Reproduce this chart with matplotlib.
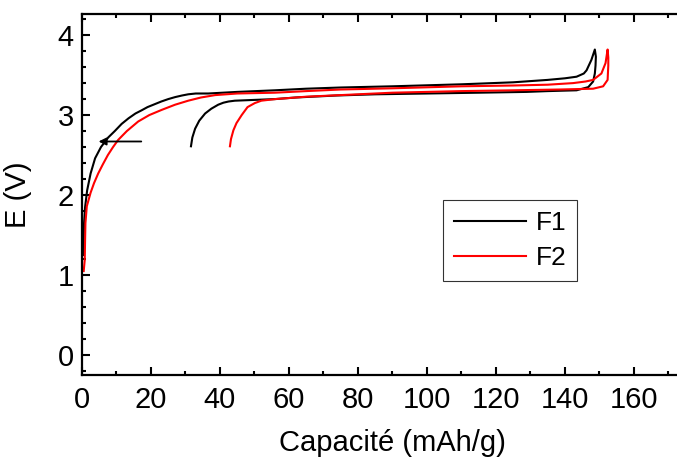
import numpy as np
import matplotlib
matplotlib.use('Agg')
import matplotlib.pyplot as plt
from matplotlib.ticker import MultipleLocator

plt.rcParams['font.family'] = ['Liberation Sans', 'DejaVu Sans']

# F1 : montée (charge) puis retour (décharge)
f1_cap = [0.3, 0.5, 0.6, 0.9, 1.5, 2.5, 3.8, 5.5, 7.6, 9.5, 11.5, 13.5, 15.5, 17.3, 19, 21,
          23, 25, 27, 29, 30.8, 33, 36.6, 45, 55.9, 65, 75, 90, 110, 125, 135, 140, 143.4,
          145.5, 146.3, 147.7, 148.7, 149, 148.9, 148.7, 148.2, 146.8, 143.4, 135, 128.9,
          115, 100, 85, 73.8, 62, 55.9, 50, 44.3, 42.5, 41, 39.5, 37.5, 35.7, 34, 32.8, 32,
          31.6]
f1_volt = [1.25, 1.44, 1.65, 1.85, 2.06, 2.27, 2.46, 2.6, 2.72, 2.80, 2.89, 2.96, 3.02, 3.06,
           3.10, 3.135, 3.17, 3.20, 3.225, 3.245, 3.26, 3.27, 3.27, 3.29, 3.31, 3.33, 3.345,
           3.36, 3.385, 3.41, 3.44, 3.46, 3.48, 3.52, 3.56, 3.69, 3.82, 3.73, 3.62, 3.52,
           3.42, 3.35, 3.31, 3.30, 3.29, 3.28, 3.27, 3.26, 3.245, 3.22, 3.20, 3.19, 3.18,
           3.17, 3.155, 3.13, 3.08, 3.02, 2.93, 2.83, 2.72, 2.61]

# F2
f2_cap = [0.5, 0.8, 0.9, 1.0, 1.4, 2.5, 3.5, 4.7, 6, 7.5, 9, 10.5, 13, 16.3, 19.5, 23.1, 27,
          30.8, 34.5, 38.6, 45, 55.9, 65, 75, 90, 110, 125, 135, 142.4, 146, 148.2, 150.6,
          151.8, 152.4, 152.6, 152.6, 152.4, 151.1, 148.2, 138.6, 125, 110, 90, 75, 65, 56,
          52, 50.1, 48, 46.3, 44.8, 43.9, 43.2, 42.9]
f2_volt = [1.05, 1.19, 1.44, 1.65, 1.86, 2.03, 2.15, 2.27, 2.38, 2.50, 2.60, 2.69, 2.80, 2.92,
           3.00, 3.065, 3.13, 3.18, 3.22, 3.25, 3.27, 3.28, 3.30, 3.32, 3.335, 3.36, 3.37,
           3.38, 3.40, 3.42, 3.44, 3.52, 3.65, 3.82, 3.72, 3.62, 3.44, 3.36, 3.33, 3.32,
           3.31, 3.30, 3.28, 3.25, 3.23, 3.20, 3.18, 3.15, 3.10, 3.00, 2.90, 2.81, 2.70, 2.61]

# flèche horizontale
fleche_x = [18, 4]
fleche_y = 2.67

xticks = np.arange(0, 161, 20)

fig = plt.figure(figsize=(6.77, 4.57), dpi=100)
ax = fig.add_axes([0.1211, 0.1794, 0.917, 0.791])

ax.plot(f1_cap, f1_volt, color='black', lw=1.5, label='F1')
ax.plot(f2_cap, f2_volt, color='red', lw=1.5, label='F2')

ax.annotate('', xy=(fleche_x[1], fleche_y), xytext=(fleche_x[0], fleche_y),
            arrowprops=dict(arrowstyle='-|>', color='black', lw=1.3, mutation_scale=11))

ax.set_xlim(0, 180)
ax.set_ylim(-0.25, 4.27)
ax.set_xticks(xticks)
ax.xaxis.set_minor_locator(MultipleLocator(10))
ax.yaxis.set_major_locator(MultipleLocator(1))
ax.yaxis.set_minor_locator(MultipleLocator(0.2))
ax.tick_params(which='both', direction='in', top=True, right=True, width=1.5,
               labelsize=21)
ax.tick_params(axis='x', pad=8)
ax.tick_params(axis='y', pad=6)
ax.tick_params(which='major', length=6)
ax.tick_params(which='minor', length=3)
for s in ax.spines.values():
    s.set_linewidth(1.6)

ax.set_xlabel('Capacité (mAh/g)', fontsize=21, labelpad=11)
ax.set_ylabel('E (V)', fontsize=21, labelpad=18)

leg = ax.legend(loc='upper left', bbox_to_anchor=(0.581, 0.484), borderaxespad=0,
                fontsize=19, frameon=True, fancybox=False, edgecolor='black',
                handlelength=2.75, labelspacing=0.42, borderpad=0.42, handletextpad=0.35)
leg.get_frame().set_linewidth(0.8)

fig.savefig('out.png', dpi=100)
